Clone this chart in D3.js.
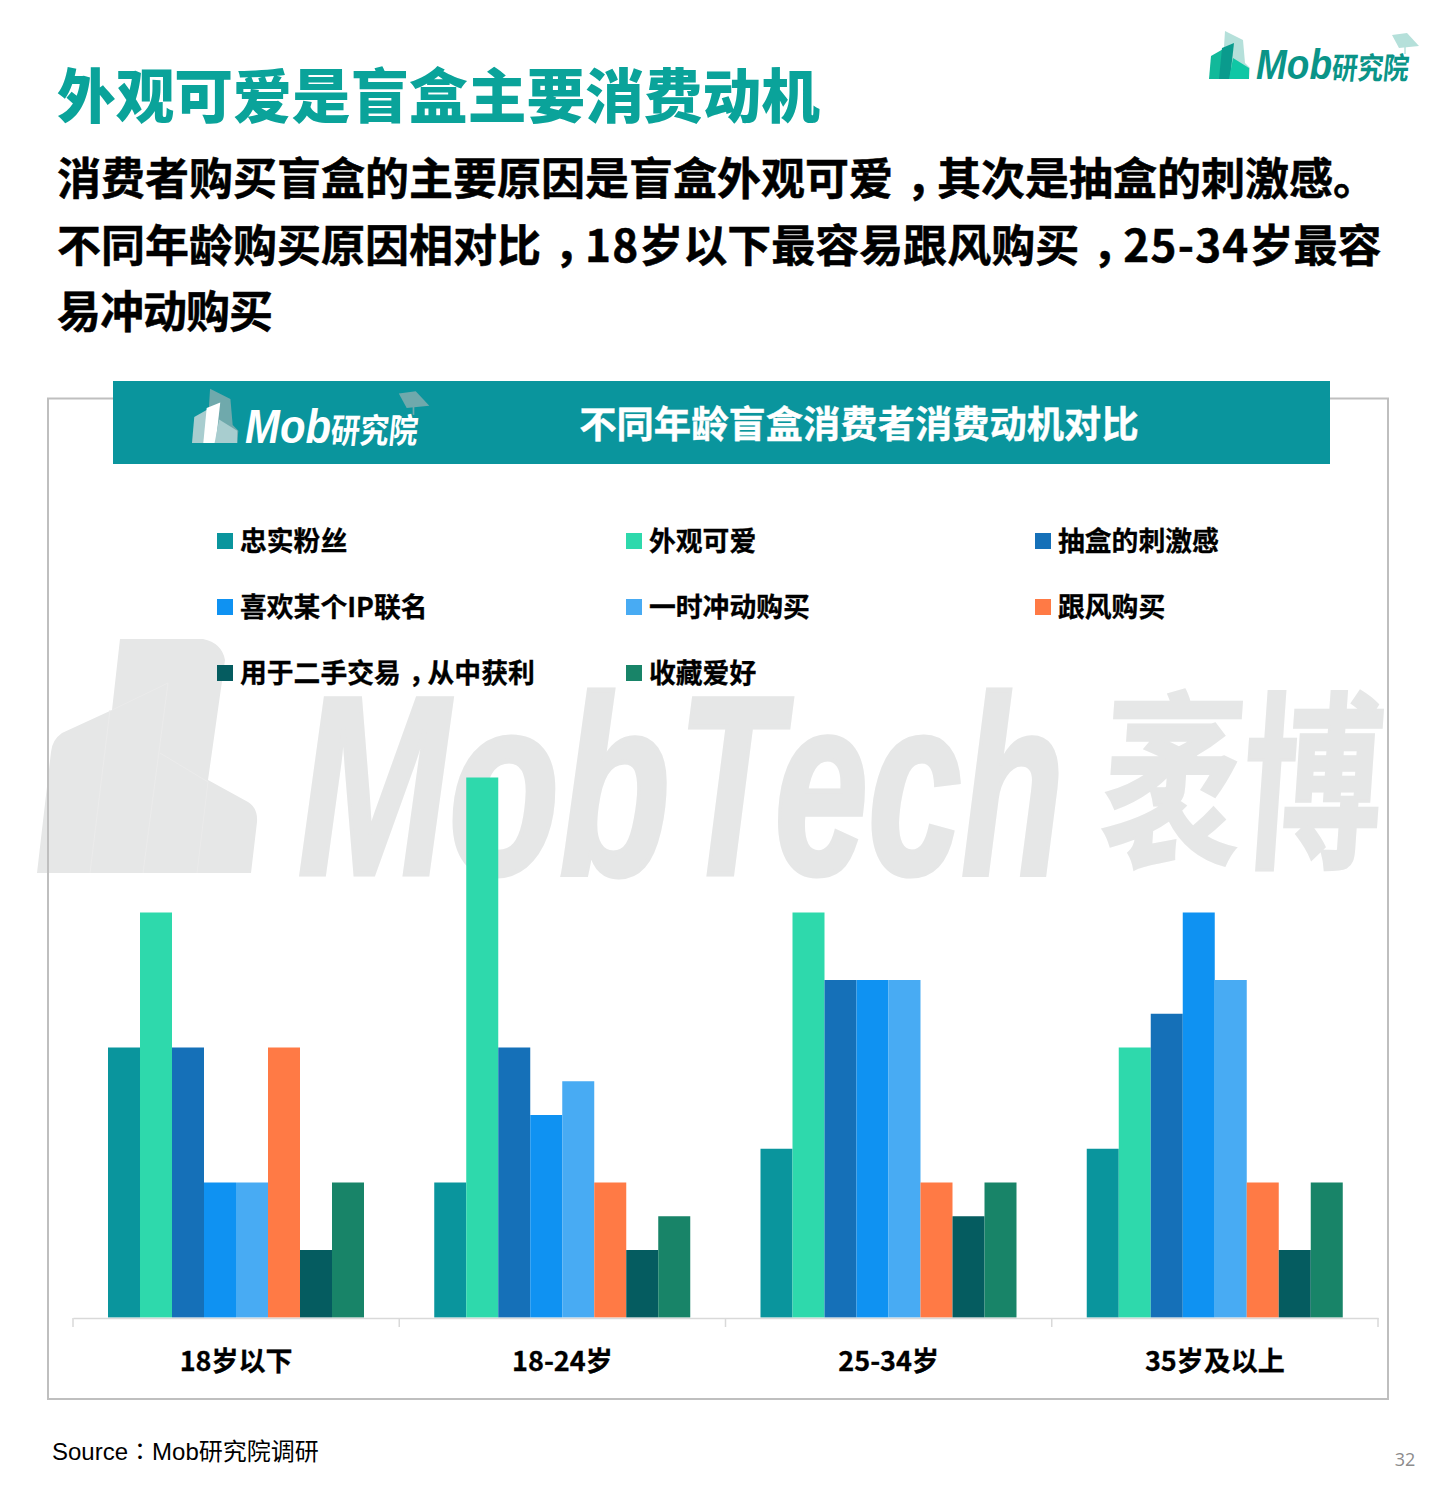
<!DOCTYPE html>
<html>
<head>
<meta charset="utf-8">
<script src="https://cdn.jsdelivr.net/npm/d3@7"></script>
<style>
  html, body { margin: 0; padding: 0; background: #fff; }
  svg { display: block; }
  text { font-family: "Noto Sans CJK SC", "Noto Sans", sans-serif; }
</style>
</head>
<body>
<svg id="chart" width="1436" height="1511"></svg>
<script>
// chart values (percent)
var ageGroups = ["18岁以下", "18-24岁", "25-34岁", "35岁及以上"];
var motives = ["忠实粉丝", "外观可爱", "抽盒的刺激感", "喜欢某个IP联名", "一时冲动购买", "跟风购买", "用于二手交易，从中获利", "收藏爱好"];
var motiveColors = ["#0a959d", "#2ed9ac", "#1570b8", "#0f92f2", "#48abf3", "#ff7a45", "#055c60", "#188468"];
var under18 = [8, 12, 8, 4, 4, 8, 2, 4];
var age18to24 = [4, 16, 8, 6, 7, 4, 2, 3];
var age25to34 = [5, 12, 10, 10, 10, 4, 3, 4];
var age35plus = [5, 8, 9, 12, 10, 4, 2, 4];
var seriesByAge = [under18, age18to24, age25to34, age35plus];

// page text
var pageTitle = "外观可爱是盲盒主要消费动机";
var subtitleLines = [
  "消费者购买盲盒的主要原因是盲盒外观可爱，其次是抽盒的刺激感。",
  "不同年龄购买原因相对比，18岁以下最容易跟风购买，25-34岁最容",
  "易冲动购买"
];
var panelTitle = "不同年龄盲盒消费者消费动机对比";
var sourceText = "Source：Mob研究院调研";
var pageNumber = "32";

var svg = d3.select("#chart");

// original has the comma low but in the middle of its cell, the colon centred both ways
function fillText(sel, digitSpacing) {
  sel.each(function(d) {
    var node = d3.select(this);
    var shiftNext = false;
    d.split(/([，：]|\d[\d-]*)/).forEach(function(part) {
      if (!part) return;
      var span = node.append("tspan").text(part);
      if (shiftNext) { span.attr("dx", "-0.3em"); shiftNext = false; }
      if (part === "，") { span.attr("dx", "0.3em"); shiftNext = true; }
      if (part === "：") span.style("font-family", "'Noto Sans CJK TC'");
      if (digitSpacing && /^\d/.test(part)) span.style("letter-spacing", digitSpacing + "px");
    });
  });
}

// watermark goes first, everything else sits on top of it
var wm = svg.append("g").attr("fill", "#e6e7e7");
wm.append("path").attr("d", "M120 639 L203 639 Q222 643 225 660 L208 780 L248 802 Q258 808 257 822 L251 873 L37 873 L51 752 Q52 740 62 733 L112 710 Z");
wm.append("path").attr("fill", "none").attr("stroke", "#ebebeb").attr("stroke-width", 1)
  .attr("d", "M90 873 L110 710 M143 873 L168 683 M197 873 L208 782 M112 710 L168 683 M160 753 L208 782");
wm.append("text").attr("x", 298).attr("y", 874)
  .attr("textLength", 372).attr("lengthAdjust", "spacingAndGlyphs")
  .attr("stroke", "#e6e7e7").attr("stroke-width", 5)
  .style("font-family", "'Liberation Sans'").style("font-style", "italic").style("font-weight", 700)
  .style("font-size", "255px").text("Mob");
wm.append("text").attr("x", 678).attr("y", 874)
  .attr("textLength", 386).attr("lengthAdjust", "spacingAndGlyphs")
  .attr("stroke", "#e6e7e7").attr("stroke-width", 5)
  .style("font-family", "'Liberation Sans'").style("font-style", "italic").style("font-weight", 700)
  .style("font-size", "255px").text("Tech");
wm.append("text")
  .attr("stroke", "#e6e7e7").attr("stroke-width", 3)
  .style("font-weight", 700).style("font-size", "190px")
  .attr("transform", "translate(1098,853) skewX(-4) scale(0.737,1)").text("袤博");

// title block
svg.append("text").attr("x", 57).attr("y", 118)
  .attr("fill", "#0aa39a").style("font-size", "58.7px").style("font-weight", 900)
  .text(pageTitle);

var subtitleSpacing = [0, 0, -1];
svg.selectAll(".subtitle").data(subtitleLines).enter().append("text")
  .attr("class", "subtitle")
  .attr("x", 57)
  .attr("y", function(d, i) { return 195 + i * 66.7; })
  .attr("fill", "#000").attr("stroke", "#000").attr("stroke-width", 0.5)
  .style("font-size", "44px").style("font-weight", 700)
  .style("letter-spacing", function(d, i) { return subtitleSpacing[i] + "px"; })
  .call(fillText, 1.2);

// little Mob logo, used top right and in the panel header
function drawLogo(g, scale, back, left, mid, right, textColor, capColor) {
  g.append("path").attr("d", "M16 -1 L34 8 L36 31 L41 36 L40 47 L13 47 Z").attr("fill", back);
  g.append("path").attr("d", "M2 24 L16 16 L14 47 L0 47 Z").attr("fill", left);
  g.append("path").attr("d", "M13 16 L25 11 L21 47 L10 47 Z").attr("fill", mid);
  g.append("path").attr("d", "M24 26 L40 36 L40 47 L20 47 Z").attr("fill", right);
  g.append("path").attr("d", "M183 3 L198 1 L210 14 L190 16 Z").attr("fill", capColor);
  g.append("line").attr("x1", 196).attr("y1", 15).attr("x2", 196).attr("y2", 22)
    .attr("stroke", capColor).attr("stroke-width", 1.5);
  g.append("text").attr("x", 47).attr("y", 47)
    .attr("fill", textColor).style("font-family", "'Liberation Sans'").style("font-style", "italic")
    .style("font-weight", 700).style("font-size", "43px")
    .attr("textLength", 76).attr("lengthAdjust", "spacingAndGlyphs").text("Mob");
  g.append("text").attr("transform", "translate(122,46.5) skewX(-6) scale(0.95,1.12)")
    .attr("fill", textColor).style("font-size", "27px").style("font-weight", 700).text("研究院");
  g.attr("transform", g.attr("transform") + " scale(" + scale + ")");
}
drawLogo(svg.append("g").attr("transform", "translate(1209,32)"), 1,
  "#b5e0da", "#12b99a", "#0a9b8d", "#0fc7a5", "#0a9488", "#b5e0da");

// panel frame and header
svg.append("rect").attr("x", 48).attr("y", 398.5).attr("width", 1340).attr("height", 1000.5)
  .attr("fill", "none").attr("stroke", "#bfbfbf").attr("stroke-width", 2);
svg.append("rect").attr("x", 113).attr("y", 381).attr("width", 1217).attr("height", 83).attr("fill", "#0a959d");
drawLogo(svg.append("g").attr("transform", "translate(192,390)"), 1.13,
  "#6fa9ac", "#a8cdcf", "#ffffff", "#a8cdcf", "#ffffff", "#6fa9ac");
svg.append("text").attr("x", 859).attr("y", 438).attr("text-anchor", "middle")
  .attr("fill", "#fff").attr("stroke", "#fff").attr("stroke-width", 0.4)
  .style("font-size", "37.3px").style("font-weight", 700).text(panelTitle);

// legend, three columns
var legendX = d3.scalePoint().domain([0, 1, 2]).range([217, 1035]);
var legendY = d3.scalePoint().domain([0, 1, 2]).range([541, 673]);
var legendItems = svg.selectAll(".legend").data(motives).enter().append("g")
  .attr("class", "legend")
  .attr("transform", function(d, i) {
    return "translate(" + legendX(i % 3) + "," + legendY(Math.floor(i / 3)) + ")";
  });
legendItems.append("rect").attr("x", 0).attr("y", -8).attr("width", 16).attr("height", 16)
  .attr("fill", function(d, i) { return motiveColors[i]; });
legendItems.append("text").attr("x", 23).attr("y", 9.5)
  .attr("fill", "#000").attr("stroke", "#000").attr("stroke-width", 0.3)
  .style("font-size", "26.8px").style("font-weight", 700)
  .call(fillText);

// scales
var x0 = d3.scaleBand().domain(ageGroups).range([73, 1378]).paddingInner(0);
var x1 = d3.scaleBand().domain(motives).range([35, 291]);
var y = d3.scaleLinear().domain([0, 16]).range([1317.5, 777.5]);

// bars
var groups = svg.selectAll(".age").data(seriesByAge).enter().append("g")
  .attr("class", "age")
  .attr("transform", function(d, i) { return "translate(" + x0(ageGroups[i]) + ",0)"; });
groups.selectAll("rect").data(function(d) { return d; }).enter().append("rect")
  .attr("x", function(d, i) { return x1(motives[i]); })
  .attr("y", function(d) { return y(d); })
  .attr("width", x1.bandwidth())
  .attr("height", function(d) { return y(0) - y(d); })
  .attr("fill", function(d, i) { return motiveColors[i]; });

// axis, labels centred in the band with ticks on the band edges
var axis = svg.append("g").attr("transform", "translate(0,1318)")
  .call(d3.axisBottom(x0).tickSize(0).tickPadding(34));
axis.select(".domain").attr("stroke", "#d9d9d9").attr("stroke-width", 1.5);
axis.selectAll("text").attr("fill", "#000").attr("stroke", "#000").attr("stroke-width", 0.3)
  .style("font-family", "'Noto Sans CJK SC'").style("font-size", "27px").style("font-weight", 700);
var tickEdges = ageGroups.map(function(d) { return x0(d); }).concat([x0.range()[1]]);
axis.selectAll(".edge").data(tickEdges).enter().append("line")
  .attr("class", "edge")
  .attr("x1", function(d) { return d; }).attr("x2", function(d) { return d; })
  .attr("y1", 0).attr("y2", 9)
  .attr("stroke", "#d9d9d9").attr("stroke-width", 1.5);

// footer
svg.append("text").datum(sourceText).attr("x", 52).attr("y", 1460).attr("fill", "#000")
  .style("font-family", "'Liberation Sans','Noto Sans CJK SC'").style("font-size", "24px")
  .call(fillText);
svg.append("text").attr("x", 1405).attr("y", 1466).attr("text-anchor", "middle").attr("fill", "#8c8c8c")
  .style("font-family", "'Open Sans'").style("font-size", "18px").text(pageNumber);
</script>
</body>
</html>
